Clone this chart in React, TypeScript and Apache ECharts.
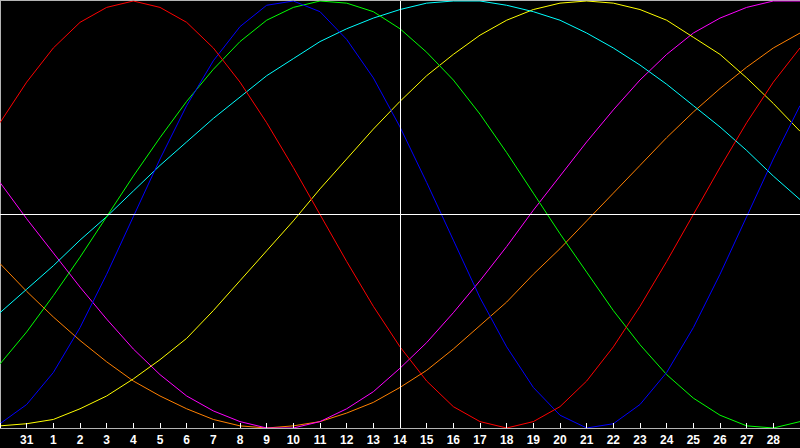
import React, { useEffect, useRef } from "react";
import * as echarts from "echarts";

const dayLabels = ["30", "31", "1", "2", "3", "4", "5", "6", "7", "8", "9", "10", "11", "12", "13", "14", "15", "16", "17", "18", "19", "20", "21", "22", "23", "24", "25", "26", "27", "28", "29"];

const red = [43, 62, 78, 90, 97, 100, 97, 90, 78, 62, 43, 22, 0, -22, -43, -62, -78, -90, -97, -100, -97, -90, -78, -62, -43, -22, 0, 22, 43, 62, 78];
const blue = [-98, -89, -74, -53, -28, -1, 26, 51, 72, 88, 98, 100, 95, 82, 64, 41, 15, -12, -39, -62, -81, -94, -100, -98, -89, -74, -53, -28, -1, 26, 51];
const green = [-70, -55, -38, -20, -1, 18, 36, 53, 68, 81, 91, 97, 100, 99, 95, 87, 76, 63, 47, 29, 10, -9, -27, -45, -61, -75, -86, -94, -99, -100, -97];
const cyan = [-46, -35, -24, -12, -1, 11, 23, 34, 45, 55, 65, 73, 81, 87, 92, 96, 99, 100, 100, 98, 95, 91, 85, 78, 70, 61, 51, 41, 30, 18, 7];
const yellow = [-99, -98, -96, -91, -85, -77, -68, -58, -45, -31, -17, -3, 12, 26, 40, 53, 65, 75, 84, 91, 96, 99, 100, 99, 96, 91, 83, 75, 64, 52, 39];
const magenta = [15, -2, -18, -34, -49, -63, -75, -85, -92, -97, -100, -100, -97, -91, -83, -72, -60, -46, -31, -15, 2, 18, 34, 49, 63, 75, 85, 92, 97, 100, 100];
const orange = [-23, -36, -48, -59, -69, -78, -85, -91, -96, -99, -100, -99, -97, -93, -88, -81, -73, -63, -52, -41, -28, -16, -3, 10, 23, 36, 48, 59, 69, 78, 85];

const seriesDefs: [string, number[], string][] = [
  ["orange", orange, "#ff8000"],
  ["magenta", magenta, "#ff00ff"],
  ["yellow", yellow, "#ffff00"],
  ["cyan", cyan, "#00ffff"],
  ["green", green, "#00ff00"],
  ["blue", blue, "#0000ff"],
  ["red", red, "#ff0000"],
];

const todayIndex = 15;

export default function App() {
  const ref = useRef<HTMLDivElement>(null);
  useEffect(() => {
    const chart = echarts.init(ref.current!, null, { renderer: "svg" });
    const last = dayLabels.length - 1;
    const series: any[] = seriesDefs.map(([name, data, color]) => ({
      name,
      type: "line",
      data,
      symbol: "none",
      smooth: false,
      silent: true,
      lineStyle: { color, width: 1 },
    }));
    series.push({
      name: "guides",
      type: "line",
      data: [],
      silent: true,
      markLine: {
        silent: true,
        symbol: "none",
        label: { show: false },
        lineStyle: { color: "#ffffff", width: 1, type: "solid" },
        data: [{ xAxis: todayIndex }, { yAxis: 0 }],
      },
    });
    chart.setOption({
      animation: false,
      backgroundColor: "#000000",
      grid: { left: 0, top: 1, width: 800, height: 427, containLabel: false },
      xAxis: {
        type: "category",
        data: dayLabels,
        boundaryGap: false,
        position: "bottom",
        z: 10,
        axisLine: { show: true, onZero: false, lineStyle: { color: "#b4b4b4", width: 1 } },
        axisTick: {
          show: true,
          inside: true,
          length: 5,
          interval: 0,
          lineStyle: { color: "#ffffff", width: 1 },
        },
        axisLabel: {
          interval: (i: number) => i > 0 && i < last,
          color: "#ffffff",
          fontSize: 12,
          fontWeight: "bold",
          fontFamily: "Liberation Sans, Arial, sans-serif",
          margin: 6,
        },
        splitLine: { show: false },
      },
      yAxis: {
        type: "value",
        min: -100,
        max: 100,
        show: false,
        splitLine: { show: false },
      },
      graphic: [
        { type: "line", shape: { x1: 0, y1: 0.5, x2: 800, y2: 0.5 }, style: { stroke: "#b4b4b4", lineWidth: 1 } },
        { type: "line", shape: { x1: 0.5, y1: 0, x2: 0.5, y2: 428 }, style: { stroke: "#b4b4b4", lineWidth: 1 } },
      ],
      series,
    });
    return () => chart.dispose();
  }, []);
  return (
    <div
      ref={ref}
      style={{ position: "fixed", left: 0, top: 0, width: 800, height: 448, background: "#000" }}
    />
  );
}
